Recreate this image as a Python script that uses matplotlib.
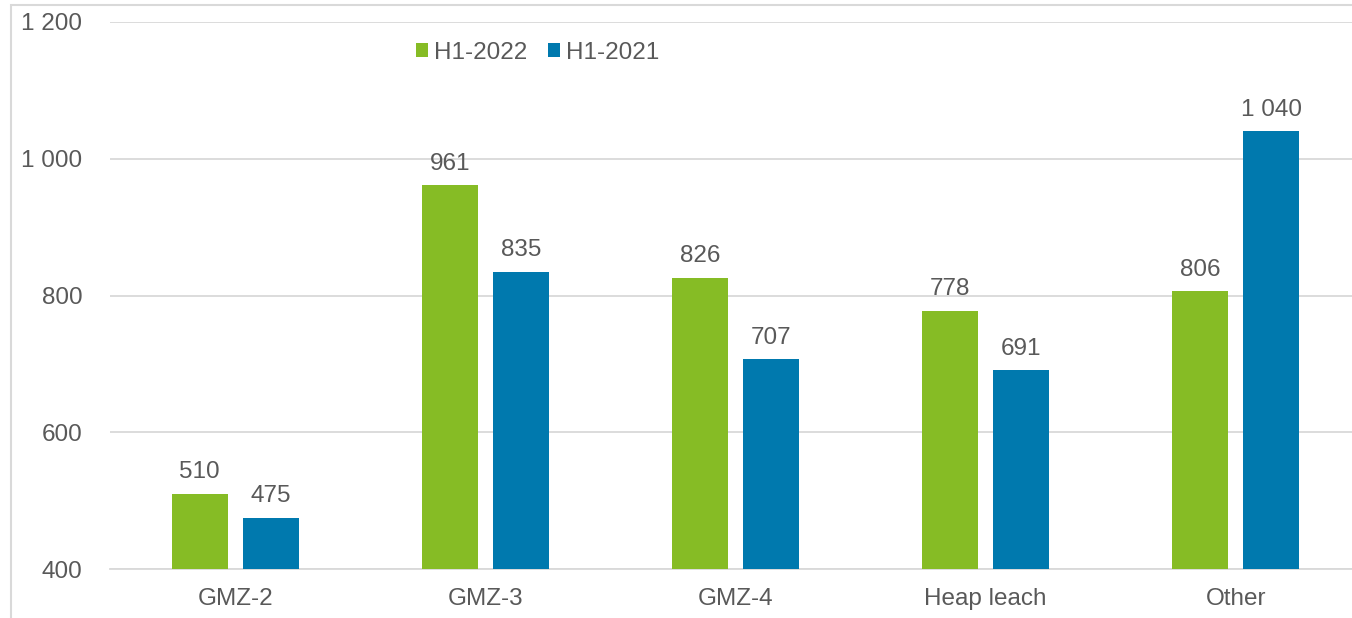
import numpy as np
import matplotlib.pyplot as plt
from matplotlib.patches import Rectangle

plt.rcParams['font.family'] = ['Liberation Sans', 'DejaVu Sans']

categories = ['GMZ-2', 'GMZ-3', 'GMZ-4', 'Heap leach', 'Other']
h1_2022 = [510, 961, 826, 778, 806]
h1_2021 = [475, 835, 707, 691, 1040]
series_names = ['H1-2022', 'H1-2021']

green = '#86bc25'
blue = '#0079ae'
txt = '#595959'
fs = 17.5

W, H = 1352, 618
fig = plt.figure(figsize=(W / 100, H / 100), dpi=100)

# plot area in pixels: left 110, right ~1361 (runs off the image), top 22, bottom 569
ax = fig.add_axes([110 / W, 1 - 569 / H, (1361 - 110) / W, (569 - 22) / H])

x = np.arange(len(categories))
bw = 0.224
off = 0.142
b1 = ax.bar(x - off, h1_2022, bw, color=green, label=series_names[0], zorder=3)
b2 = ax.bar(x + off, h1_2021, bw, color=blue, label=series_names[1], zorder=3)

def fmt(v):
    return f'{v:,}'.replace(',', ' ')

for bars, vals in [(b1, h1_2022), (b2, h1_2021)]:
    for r, v in zip(bars, vals):
        ax.annotate(fmt(v), (r.get_x() + r.get_width() / 2, v), xytext=(0, 7.5),
                    textcoords='offset points', ha='center', va='bottom',
                    fontsize=fs, color=txt)

ax.set_xlim(-0.5, len(categories) - 0.5)
ax.set_ylim(400, 1200)
ax.set_yticks([400, 600, 800, 1000, 1200])
ax.set_yticklabels([fmt(v) for v in [400, 600, 800, 1000, 1200]])
ax.set_xticks(x)
ax.set_xticklabels(categories)
ax.tick_params(axis='y', length=0, pad=20, labelsize=fs, labelcolor=txt)
ax.tick_params(axis='x', length=0, pad=14, labelsize=fs, labelcolor=txt)
ax.grid(axis='y', color='#d9d9d9', linewidth=1.3, zorder=0)
for s in ['top', 'right', 'left']:
    ax.spines[s].set_visible(False)
ax.spines['bottom'].set_color('#d9d9d9')
ax.spines['bottom'].set_linewidth(1.3)

leg = fig.legend(handles=[b1, b2], loc='center left', bbox_to_anchor=(406 / W, 1 - 53 / H),
                 ncol=2, frameon=False, fontsize=fs, handlelength=0.5, handleheight=0.5,
                 handletextpad=0.25, columnspacing=0.85, labelcolor=txt, borderaxespad=0)

# outer chart border
fig.patches.append(Rectangle((11 / W, -0.05), 1.2, 1 - 5 / H + 0.05, transform=fig.transFigure,
                             fill=False, edgecolor='#d9d9d9', linewidth=1.5))

fig.savefig('out.png', dpi=100)
